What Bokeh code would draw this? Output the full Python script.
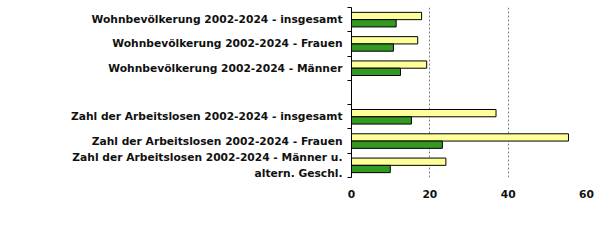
from bokeh.plotting import figure
from bokeh.models import (Range1d, LinearAxis, FixedTicker,
                          ColumnDataSource, Legend, LegendItem)
from bokeh.layouts import column
from bokeh.embed import file_html
from bokeh.resources import INLINE

categories = [
    "Wohnbevölkerung 2002-2024 - insgesamt",
    "Wohnbevölkerung 2002-2024 - Frauen",
    "Wohnbevölkerung 2002-2024 - Männer",
    "",
    "Zahl der Arbeitslosen 2002-2024 - insgesamt",
    "Zahl der Arbeitslosen 2002-2024 - Frauen",
    "Zahl der Arbeitslosen 2002-2024 - Männer u.\naltern. Geschl.",
]
wr_neustadt = [17.9, 16.9, 19.2, float("nan"), 36.9, 55.4, 24.1]
niederoesterreich = [11.4, 10.7, 12.5, float("nan"), 15.3, 23.2, 9.9]
series_names = ["Wr. Neustadt", "Niederösterreich"]
series_colors = ["#FFFF99", "#339922"]
x_ticks = [0, 20, 40, 60]

FONT = "DejaVu Sans"
FS = "10.7px"
n = len(categories)
centers = [n - i - 0.5 for i in range(n)]  # first category on top

src = ColumnDataSource(dict(
    ya=[c + 0.15 for c in centers], yb=[c - 0.15 for c in centers],
    a=wr_neustadt, b=niederoesterreich))

p = figure(width=605, height=205, y_range=Range1d(0, n), x_range=Range1d(0, 60),
           output_backend="svg", toolbar_location=None, y_axis_location=None,
           min_border_left=351, min_border_right=19, min_border_top=7,
           min_border_bottom=28)
p.outline_line_color = None
p.background_fill_color = None
p.border_fill_color = "white"

p.hbar(y="ya", right="a", left=0, height=0.3,
       source=src, fill_color=series_colors[0], line_color="black", line_width=1)
p.hbar(y="yb", right="b", left=0, height=0.3,
       source=src, fill_color=series_colors[1], line_color="black", line_width=1)

# boundary tick axis (adjacent to frame)
bounds = list(range(n + 1))
tick_axis = LinearAxis(ticker=FixedTicker(ticks=bounds),
                       major_label_overrides={b: "" for b in bounds},
                       major_label_text_font_size="1px", major_label_standoff=0,
                       major_tick_in=0, major_tick_out=4, minor_tick_line_color=None,
                       axis_line_color="black", major_tick_line_color="black")
label_axis = LinearAxis(ticker=FixedTicker(ticks=centers),
                        major_label_overrides={c: lab for c, lab in zip(centers, categories)},
                        axis_line_color=None, major_tick_line_color=None,
                        minor_tick_line_color=None,
                        major_tick_out=0, major_tick_in=0, major_label_standoff=5,
                        major_label_text_font=FONT, major_label_text_font_style="bold",
                        major_label_text_font_size=FS, major_label_text_color="#111111")
p.left = [tick_axis, label_axis]

xa = p.xaxis[0]
xa.ticker = FixedTicker(ticks=x_ticks)
xa.axis_line_color = None
xa.major_tick_line_color = None
xa.minor_tick_line_color = None
xa.major_label_standoff = 6
xa.major_label_text_font = FONT
xa.major_label_text_font_style = "bold"
xa.major_label_text_font_size = FS
xa.major_label_text_color = "#111111"

p.xgrid.ticker = FixedTicker(ticks=x_ticks[1:])
p.xgrid.grid_line_color = "#808080"
p.xgrid.grid_line_dash = "2 2"
p.ygrid.grid_line_color = None

# legend strip below the chart (its series renderers lie outside its view)
p2 = figure(width=605, height=39, x_range=Range1d(0, 60), y_range=Range1d(-2, -1),
            output_backend="svg", toolbar_location=None,
            x_axis_location=None, y_axis_location=None,
            min_border_left=351, min_border_right=19, min_border_top=0,
            min_border_bottom=0)
p2.outline_line_color = None
p2.grid.grid_line_color = None
p2.background_fill_color = None
p2.border_fill_color = "white"
items = []
for name, col, ycol, xcol in zip(series_names, series_colors, ["ya", "yb"], ["a", "b"]):
    r = p2.hbar(y=ycol, right=xcol, left=0, height=0.3, source=src,
                fill_color=col, line_color="black", line_width=1)
    items.append(LegendItem(label=name, renderers=[r]))
legend = Legend(items=items, orientation="horizontal", location=(-42, 10),
                glyph_width=6, glyph_height=6, label_standoff=3, spacing=55,
                padding=0, margin=0, border_line_color=None, background_fill_alpha=0,
                label_text_font=FONT, label_text_font_style="bold",
                label_text_font_size=FS, label_text_color="#111111",
                label_height=12)
p2.add_layout(legend, "below")

open("out.html", "w").write(file_html(column(p, p2, spacing=0), INLINE))
